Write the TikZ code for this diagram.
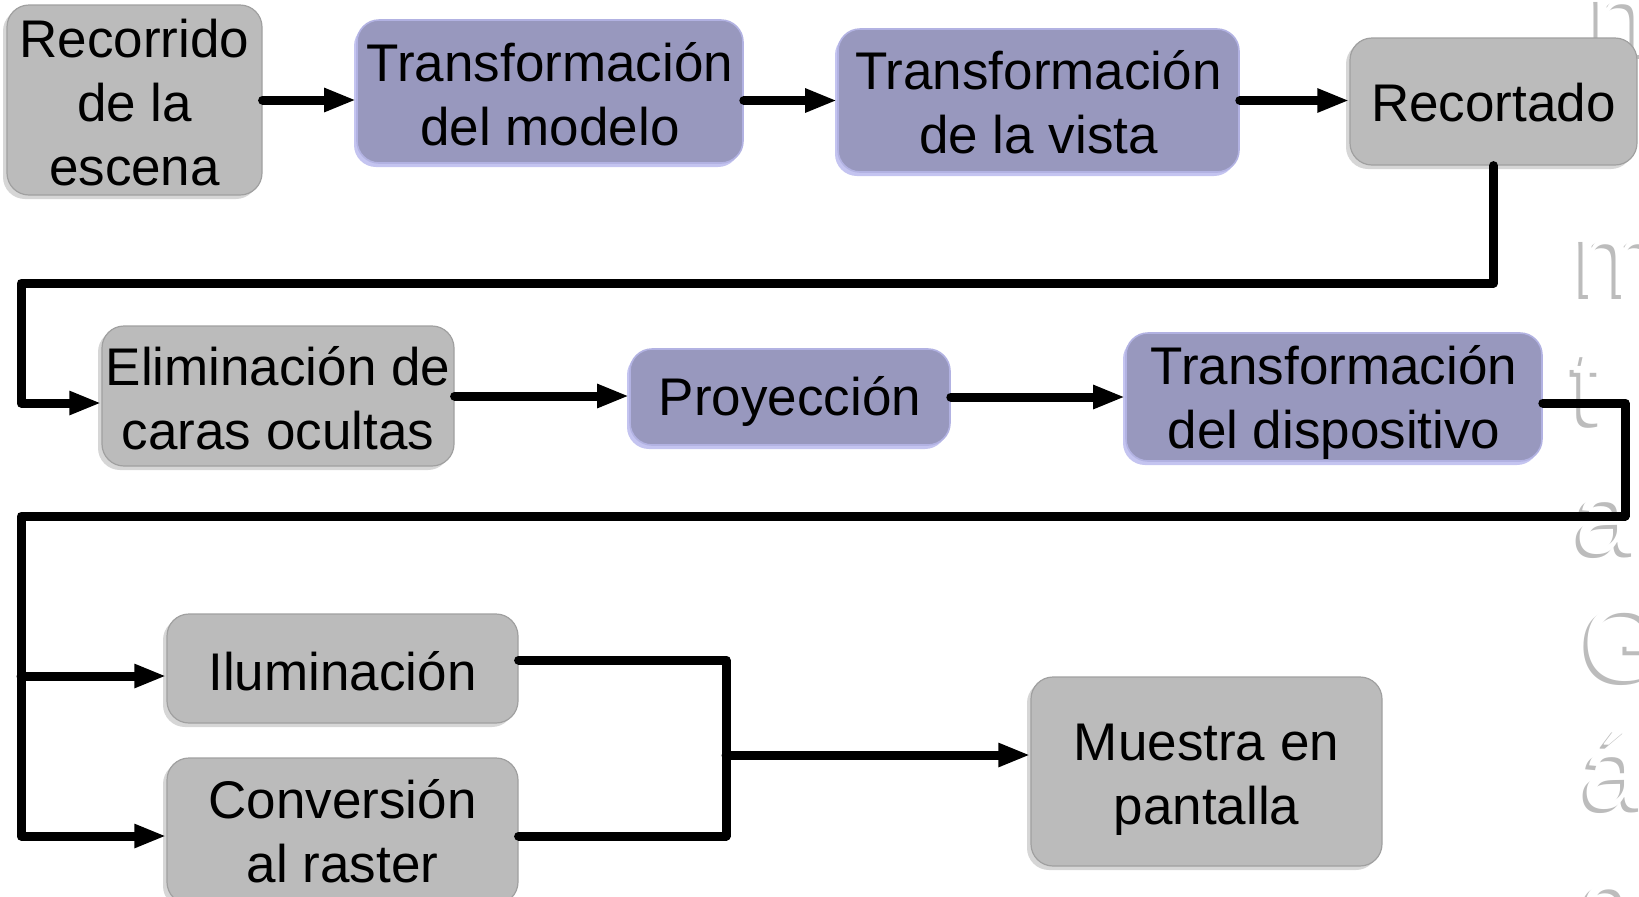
\documentclass[tikz,border=0pt]{standalone}
\usepackage{fontspec}
\setmainfont{Liberation Sans}
\usetikzlibrary{arrows.meta,shadows}
\definecolor{boxgray}{RGB}{187,187,187}
\definecolor{grayedge}{RGB}{160,160,160}
\definecolor{grayshadow}{RGB}{214,214,214}
\definecolor{boxpurple}{RGB}{152,152,190}
\definecolor{purpleedge}{RGB}{178,178,226}
\definecolor{purpleshadow}{RGB}{196,196,240}
\definecolor{wmshadow}{RGB}{188,188,188}
\begin{document}
\begin{tikzpicture}[x=0.5pt,y=-0.5pt,
  box/.style={rounded corners=11pt, inner sep=0pt},
  graybox/.style={box, fill=boxgray, draw=grayedge, line width=0.6pt,
    drop shadow={shadow xshift=-2pt, shadow yshift=-2pt, fill=grayshadow, opacity=1}},
  purplebox/.style={box, fill=boxpurple, draw=purpleedge, line width=0.8pt,
    drop shadow={shadow xshift=-1.5pt, shadow yshift=-2pt, fill=purpleshadow, opacity=1}},
  txt/.style={inner sep=0pt, align=center, font=\fontsize{26.5}{32}\selectfont},
  conn/.style={line width=4.5pt, line cap=round, line join=round},
  arr/.style={conn, -{Triangle[length=16pt,width=11pt]}},
  wm/.style={anchor=base west, inner sep=0pt, font=\fontsize{54}{54}\selectfont},
]
\useasboundingbox (0,0) rectangle (1639,896);

% faint watermark letters at the right edge
\foreach \c/\px/\py/\nm in {n/1590/55/wa, m/1575/295/wb, t/1572/423/wc, a/1575/553/wd, G/1582/680/we, á/1582/808/wf, c/1580/940/wg}{
  \node[wm, text=wmshadow] (\nm s) at (\px-4,\py+4) {\c};
  \node[wm, text=white] (\nm) at (\px,\py) {\c};
}

% boxes
\node[graybox, minimum width=127.5pt, minimum height=95pt] (rec) at (134.5,100) {};
\node[purplebox, minimum width=193pt, minimum height=71.5pt] (tm) at (550,91.5) {};
\node[purplebox, minimum width=200.5pt, minimum height=71.5pt] (tv) at (1038.5,100.5) {};
\node[graybox, minimum width=143.5pt, minimum height=63.5pt] (rc) at (1493.5,101.5) {};
\node[graybox, minimum width=176pt, minimum height=70pt] (el) at (278,396) {};
\node[purplebox, minimum width=160pt, minimum height=48pt] (pr) at (790,397) {};
\node[purplebox, minimum width=208pt, minimum height=64pt] (td) at (1334,397) {};
\node[graybox, minimum width=175.5pt, minimum height=54.5pt] (il) at (342.5,668.5) {};
\node[graybox, minimum width=175.5pt, minimum height=73pt] (cv) at (342.5,831) {};
\node[graybox, minimum width=175.5pt, minimum height=94.5pt] (mu) at (1206.5,771.5) {};

% texts
\node[txt] (rec-t) at ([yshift=-1.3pt]rec.center) {Recorrido\\de la\\escena};
\node[txt] (tm-t) at ([yshift=-1.3pt]tm.center) {Transformación\\del modelo};
\node[txt] (tv-t) at ([yshift=-0.8pt]tv.center) {Transformación\\de la vista};
\node[txt] (rc-t) at ([yshift=-0.5pt]rc.center) {Recortado};
\node[txt] (el-t) at ([yshift=-1pt]el.center) {Eliminación de\\caras ocultas};
\node[txt] (pr-t) at ([yshift=-2pt]pr.center) {Proyección};
\node[txt] (td-t) at ([yshift=-2.6pt]td.center) {Transformación\\del dispositivo};
\node[txt] (il-t) at ([yshift=-1.6pt]il.center) {Iluminación};
\node[txt] (cv-t) at (cv.center) {Conversión\\al raster};
\node[txt] (mu-t) at ([yshift=-4.2pt]mu.center) {Muestra en\\pantalla};

% bend points
\coordinate (r1) at (21,283);
\coordinate (r2) at (21,403);
\coordinate (t1) at (1625,403);
\coordinate (t2) at (1625,516);
\coordinate (t3) at (21,516);
\coordinate (t4) at (21,836);
\coordinate (b1) at (21,676);
\coordinate (m1) at (726,660);
\coordinate (m2) at (726,836);
\coordinate (m3) at (726,755);

% connectors
\draw[arr] (rec.east) -- (rec.east -| tm.west);
\draw[arr] (tm.east |- tv.west) -- (tv.west);
\draw[arr] (tv.east) -- (tv.east -| rc.west);
\draw[arr] (rc.south) |- (r1) -- (r2) -- (r2 -| el.west);
\draw[arr] (el.east) -- (el.east -| pr.west);
\draw[arr] (pr.east) -- (pr.east -| td.west);
\draw[arr] (t1 -| td.east) -- (t1) -- (t2) -- (t3) -- (t4) -- (t4 -| cv.west);
\draw[arr] (b1) -- (b1 -| il.west);
\draw[conn] (il.east |- m1) -- (m1) -- (m2) -- (m2 -| cv.east);
\draw[arr] (m3) -- (m3 -| mu.west);
\end{tikzpicture}
\end{document}
